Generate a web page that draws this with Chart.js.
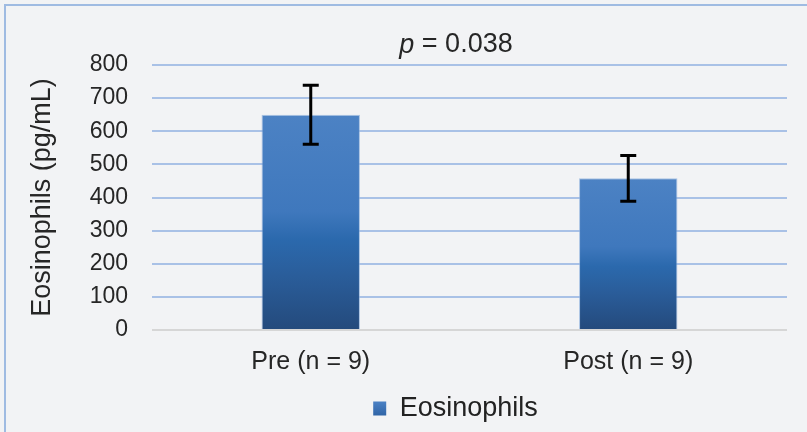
<!DOCTYPE html>
<html>
<head>
<meta charset="utf-8">
<script src="https://cdn.jsdelivr.net/npm/chart.js@4/dist/chart.umd.min.js"></script>
<style>
  html, body { margin: 0; padding: 0; background: #f2f3f5; }
  #wrap { position: relative; width: 807px; height: 432px; box-sizing: border-box; }
  canvas { display: block; }
</style>
</head>
<body>
<div id="wrap"><canvas id="c" width="807" height="432"></canvas></div>
<script>
const categories = ['Pre (n = 9)', 'Post (n = 9)'];
const seriesName = 'Eosinophils';
const means = [650, 458];
const errors = [89, 69];
const yTickValues = [0, 100, 200, 300, 400, 500, 600, 700, 800];
const yTitle = 'Eosinophils (pg/mL)';
const pValueLabel = 'p';
const pValueRest = ' = 0.038';

const FONT = '"Liberation Sans", Arial, sans-serif';

function barFill(ctx) {
  if (ctx.type !== 'data') return '#3a72b8';
  const chart = ctx.chart;
  const y = chart.scales && chart.scales.y;
  if (!y || !chart.chartArea) return '#3a72b8';
  const top = y.getPixelForValue(ctx.raw);
  const bot = y.getPixelForValue(0);
  if (!isFinite(top) || !isFinite(bot) || top === bot) return '#3a72b8';
  const g = chart.ctx.createLinearGradient(0, top, 0, bot);
  g.addColorStop(0, '#4c82c4');
  g.addColorStop(0.45, '#3f78bd');
  g.addColorStop(0.58, '#2b69ad');
  g.addColorStop(0.75, '#2a5d9a');
  g.addColorStop(1, '#244a7c');
  return g;
}

function legendFill(chart) {
  const g = chart.ctx.createLinearGradient(0, 402, 0, 416);
  g.addColorStop(0, '#4a80c4');
  g.addColorStop(1, '#2f63a5');
  return g;
}

const frame = {
  id: 'frame',
  beforeDraw(chart) {
    const c = chart.ctx;
    c.save();
    c.fillStyle = '#f2f3f5';
    c.fillRect(0, 0, chart.width, chart.height);
    c.strokeStyle = '#9fbbe2';
    c.lineWidth = 2;
    c.beginPath();
    c.moveTo(5, chart.height);
    c.lineTo(5, 5);
    c.lineTo(chart.width, 5);
    c.stroke();
    c.restore();
  }
};

const titlePlugin = {
  id: 'pTitle',
  afterDraw(chart) {
    const c = chart.ctx;
    c.save();
    const size = 27;
    const it = 'italic ' + size + 'px ' + FONT;
    const no = size + 'px ' + FONT;
    c.font = it; const w1 = c.measureText(pValueLabel).width;
    c.font = no; const w2 = c.measureText(pValueRest).width;
    const cx = 456, cy = 45;
    let x = cx - (w1 + w2) / 2;
    c.textBaseline = 'middle';
    c.textAlign = 'left';
    c.fillStyle = '#262626';
    c.font = it; c.fillText(pValueLabel, x, cy);
    c.font = no; c.fillText(pValueRest, x + w1, cy);
    c.restore();
  }
};

const errorBars = {
  id: 'errorBars',
  afterDatasetsDraw(chart) {
    const c = chart.ctx;
    const xs = chart.scales.x, ys = chart.scales.y;
    c.save();
    c.strokeStyle = '#000';
    c.lineWidth = 3;
    c.lineCap = 'butt';
    means.forEach((m, i) => {
      const x = xs.getPixelForValue(i);
      const yt = ys.getPixelForValue(m + errors[i]);
      const yb = ys.getPixelForValue(m - errors[i]);
      c.beginPath();
      c.moveTo(x, yt); c.lineTo(x, yb);
      c.moveTo(x - 8, yt); c.lineTo(x + 8, yt);
      c.moveTo(x - 8, yb); c.lineTo(x + 8, yb);
      c.stroke();
    });
    c.restore();
  }
};

const legendShift = {
  id: 'legendShift',
  afterLayout(chart) {
    if (chart.legend) { chart.legend.left -= 14; chart.legend.right -= 14; }
  }
};

new Chart(document.getElementById('c'), {
  type: 'bar',
  data: {
    labels: categories,
    datasets: [{
      label: seriesName,
      data: means,
      backgroundColor: barFill,
      borderColor: 'rgba(140,175,220,0.7)',
      borderWidth: 1,
      categoryPercentage: 1,
      barPercentage: 0.31
    }]
  },
  options: {
    responsive: false,
    animation: false,
    layout: { padding: { top: 65, right: 20, left: 6, bottom: 0 } },
    plugins: {
      title: { display: false },
      tooltip: { enabled: false },
      legend: {
        display: true,
        position: 'bottom',
        fullSize: false,
        labels: {
          boxWidth: 13, boxHeight: 14, padding: 10,
          color: '#222',
          font: { family: FONT, size: 27 },
          generateLabels(chart) {
            return chart.data.datasets.map((ds, i) => ({
              text: ds.label,
              fillStyle: legendFill(chart),
              strokeStyle: 'rgba(140,175,220,0.7)',
              lineWidth: 0,
              hidden: false,
              datasetIndex: i,
              fontColor: '#222'
            }));
          }
        }
      }
    },
    scales: {
      x: {
        grid: { display: false, drawTicks: false },
        border: { display: false },
        ticks: { color: '#262626', padding: 17, font: { family: FONT, size: 25 }, maxRotation: 0 },
        afterFit(s) { s.height = 55; }
      },
      y: {
        min: 0, max: 800,
        afterBuildTicks(s) { s.ticks = yTickValues.map(v => ({ value: v })); },
        grid: {
          drawTicks: false,
          lineWidth: 2,
          color: (ctx) => ctx.tick && ctx.tick.value === 0 ? '#d6d6d6' : '#a9c1e6'
        },
        border: { display: false },
        ticks: { color: '#262626', padding: 24, font: { family: FONT, size: 23 } },
        title: {
          display: true, text: yTitle, color: '#262626',
          font: { family: FONT, size: 27 },
          padding: { top: 20, bottom: 0 }
        },
        afterFit(s) { s.width = 146; }
      }
    }
  },
  plugins: [frame, titlePlugin, errorBars, legendShift]
});
</script>
</body>
</html>
